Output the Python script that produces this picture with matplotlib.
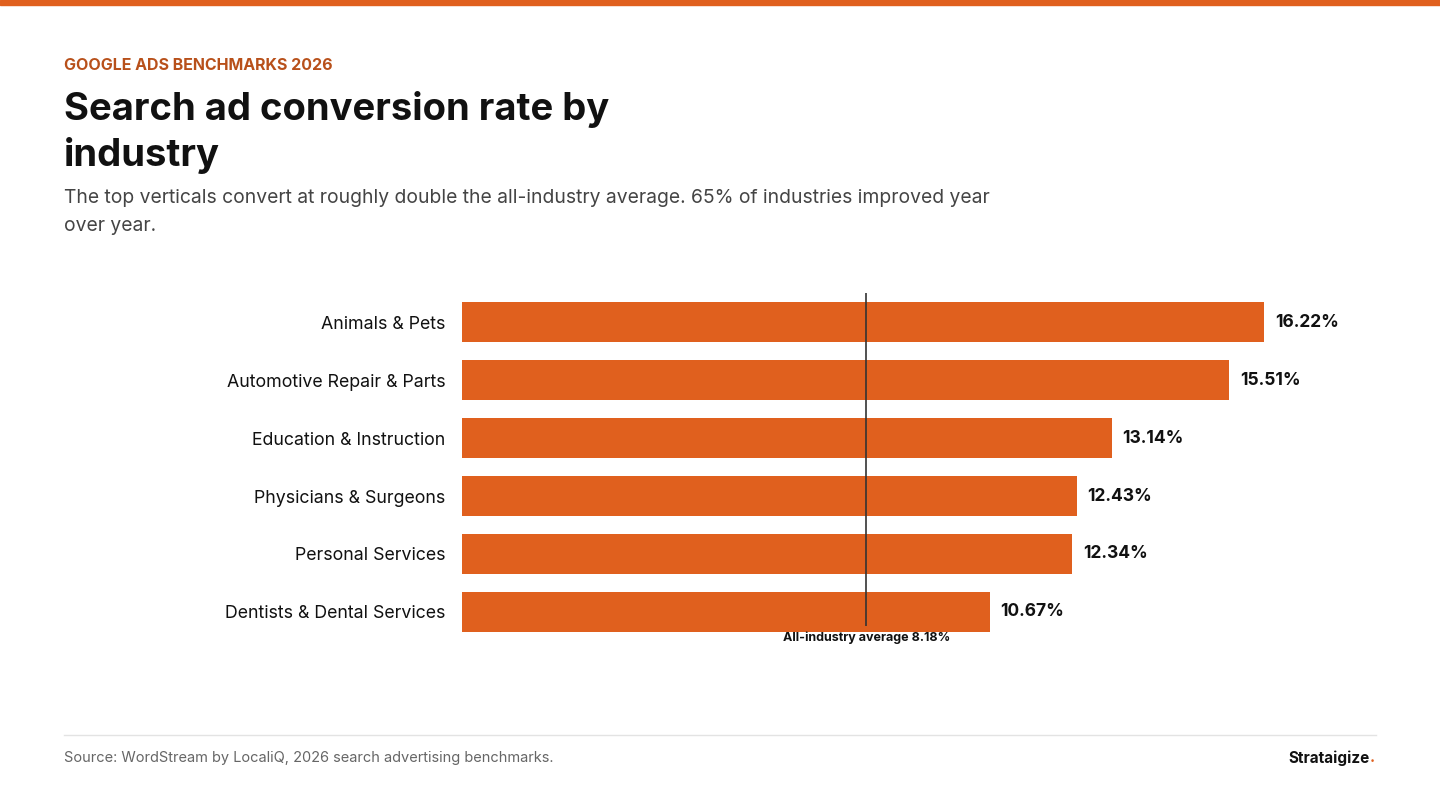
import matplotlib
matplotlib.use("Agg")
import matplotlib.pyplot as plt

plt.rcParams['font.family'] = ['Inter', 'DejaVu Sans']

industries = ['Animals & Pets', 'Automotive Repair & Parts', 'Education & Instruction',
              'Physicians & Surgeons', 'Personal Services', 'Dentists & Dental Services']
rates = [16.22, 15.51, 13.14, 12.43, 12.34, 10.67]
average = 8.18

orange = '#E0601E'
W, H = 1440, 810
fig = plt.figure(figsize=(14.4, 8.1), dpi=100)
fig.patch.set_facecolor('white')

# top stripe
fig.add_artist(plt.Rectangle((0, 1 - 5 / H), 1, 5 / H, transform=fig.transFigure, color=orange))

def fx(px): return px / W
def fy(py): return 1 - py / H

fig.text(fx(64), fy(66), 'GOOGLE ADS BENCHMARKS 2026', color='#B8501A', fontsize=11.5,
         fontweight='bold', va='center')
fig.text(fx(64), fy(110), 'Search ad conversion rate by', fontsize=27.5, fontweight='bold',
         color='#111111', va='center')
fig.text(fx(64), fy(155), 'industry', fontsize=27.5, fontweight='bold', color='#111111', va='center')
fig.text(fx(64), fy(198), 'The top verticals convert at roughly double the all-industry average. '
         '65% of industries improved year', fontsize=13.9, color='#444444', va='center')
fig.text(fx(64), fy(226), 'over year.', fontsize=13.9, color='#444444', va='center')

# axes: left at 462 px, 49.44 px per percent
ax_l, ax_r, ax_t, ax_b = 462, 1400, 293, 641
ax = fig.add_axes([fx(ax_l), fy(ax_b), fx(ax_r - ax_l), (ax_b - ax_t) / H])
xmax = (ax_r - ax_l) / 49.44
ypos = list(range(len(industries)))
ax.barh(ypos, rates, height=0.69, color=orange)
ax.set_xlim(0, xmax)
ax.set_ylim(len(industries) - 0.5, -0.5)
for y, v in zip(ypos, rates):
    ax.text(v + 0.22, y, f'{v:.2f}%', va='center', fontsize=12.5, fontweight='bold', color='#111111')
ax.set_yticks(ypos)
ax.set_yticklabels(industries, fontsize=12.8, color='#111111')
ax.tick_params(axis='y', length=0, pad=12)
ax.set_xticks([])
for s in ax.spines.values():
    s.set_visible(False)
ax.vlines(average, -0.55, 5.24, color='#333333', linewidth=1.2)
ax.text(average, 5.45, f'All-industry average {average}%', ha='center', va='center',
        fontsize=9, fontweight='bold', color='#111111', clip_on=False)

# footer
fig.add_artist(plt.Line2D([fx(64), fx(1376)], [fy(735), fy(735)], color='#E3E3E3', linewidth=1))
fig.text(fx(64), fy(758), 'Source: WordStream by LocaliQ, 2026 search advertising benchmarks.',
         fontsize=10.5, color='#666666', va='center')
fig.text(fx(1370), fy(758), 'Strataigize', fontsize=11, fontweight='bold', color='#111111',
         va='center', ha='right')
fig.text(fx(1370), fy(758), '.', fontsize=11, fontweight='bold', color=orange, va='center', ha='left')

fig.savefig('out.png', dpi=100, facecolor='white')
